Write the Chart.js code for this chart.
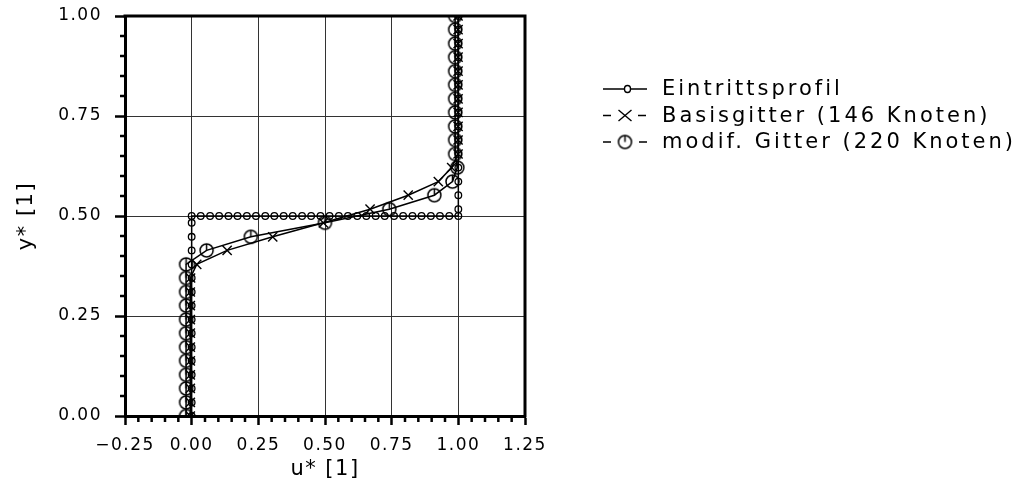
<!DOCTYPE html>
<html>
<head>
<meta charset="utf-8">
<script src="https://cdn.jsdelivr.net/npm/chart.js@4.4.1/dist/chart.umd.min.js"></script>
<style>
  html, body { margin: 0; padding: 0; background: #fff; }
  #wrap { position: relative; width: 1019px; height: 487px; }
</style>
</head>
<body>
<div id="wrap"><canvas id="profileChart"></canvas></div>
<script>
// y* of the grid nodes (all three profiles are sampled there)
const nodeY = [0.000, 0.034, 0.069, 0.103, 0.138, 0.172, 0.207, 0.241, 0.276, 0.310,
               0.345, 0.379, 0.414, 0.448, 0.483, 0.517, 0.552, 0.586, 0.621, 0.655,
               0.690, 0.724, 0.759, 0.793, 0.828, 0.862, 0.897, 0.931, 0.966, 1.000];

// inlet step profile (column at u=0, row at y=0.5, column at u=1)
const inletU = [0, 0, 0, 0, 0, 0, 0, 0, 0, 0, 0, 0, 0, 0, 0,
                0.000, 0.034, 0.069, 0.103, 0.138, 0.172, 0.207, 0.241, 0.276, 0.310,
                0.345, 0.379, 0.414, 0.448, 0.483, 0.517, 0.552, 0.586, 0.621, 0.655,
                0.690, 0.724, 0.759, 0.793, 0.828, 0.862, 0.897, 0.931, 0.966, 1.000,
                1, 1, 1, 1, 1, 1, 1, 1, 1, 1, 1, 1, 1, 1, 1];
const inletY = [0.000, 0.034, 0.069, 0.103, 0.138, 0.172, 0.207, 0.241, 0.276, 0.310,
                0.345, 0.379, 0.414, 0.448, 0.483,
                0.5, 0.5, 0.5, 0.5, 0.5, 0.5, 0.5, 0.5, 0.5, 0.5,
                0.5, 0.5, 0.5, 0.5, 0.5, 0.5, 0.5, 0.5, 0.5, 0.5,
                0.5, 0.5, 0.5, 0.5, 0.5, 0.5, 0.5, 0.5, 0.5, 0.5,
                0.517, 0.552, 0.586, 0.621, 0.655, 0.690, 0.724, 0.759, 0.793, 0.828,
                0.862, 0.897, 0.931, 0.966, 1.000];

// Basisgitter (146 Knoten)
const basisU = [-0.005, -0.005, -0.005, -0.005, -0.005, -0.005, -0.005, -0.005, -0.005, -0.005,
                -0.004, 0.019, 0.133, 0.304, 0.494, 0.669, 0.812, 0.925, 0.975, 0.999,
                0.999, 0.999, 0.999, 0.999, 0.999, 0.999, 0.999, 0.999, 0.999, 0.999];

// modif. Gitter (220 Knoten)
const modifU = [-0.021, -0.021, -0.021, -0.021, -0.021, -0.021, -0.021, -0.021, -0.021, -0.021,
                -0.021, -0.021, 0.056, 0.222, 0.500, 0.741, 0.910, 0.978, 0.996, 0.988,
                0.988, 0.988, 0.988, 0.988, 0.988, 0.988, 0.988, 0.988, 0.988, 0.988];

const xTicks = [-0.25, 0.00, 0.25, 0.50, 0.75, 1.00, 1.25];
const yTicks = [0.00, 0.25, 0.50, 0.75, 1.00];
const legendLabels = ['Eintrittsprofil', 'Basisgitter (146 Knoten)', 'modif. Gitter (220 Knoten)'];
const xTitle = 'u* [1]';
const yTitle = 'y* [1]';

const FONT = "'DejaVu Sans', sans-serif";

// circle with a short vertical stroke on top, used for the modified grid
function makeModifMarker() {
    const c = document.createElement('canvas');
    c.width = 17; c.height = 17;
    const g = c.getContext('2d');
    g.strokeStyle = '#000';
    g.lineWidth = 1.5;
    g.beginPath();
    g.arc(8.5, 8.5, 6.5, 0, Math.PI * 2);
    g.stroke();
    g.beginPath();
    g.moveTo(8.5, 2);
    g.lineTo(8.5, 8.5);
    g.stroke();
    return c;
}
const modifMarker = makeModifMarker();

function toPoints(us, ys) {
    return us.map((u, i) => ({ x: u, y: ys[i] }));
}

function fmt(v) {
    const s = Math.abs(v).toFixed(2);
    return v < 0 ? '\u2212' + s : s;
}

// thick frame on top and right, minor ticks every 0.05
const framePlugin = {
    id: 'frame',
    beforeDraw(chart) {
        chart.ctx.letterSpacing = '1.5px';
    },
    afterDraw(chart) {
        const { ctx, chartArea: a, scales } = chart;
        ctx.save();
        ctx.strokeStyle = '#000';
        ctx.lineWidth = 3;
        ctx.beginPath();
        ctx.moveTo(a.left - 1.5, a.top);
        ctx.lineTo(a.right, a.top);
        ctx.lineTo(a.right, a.bottom + 1.5);
        ctx.stroke();

        ctx.lineWidth = 2.5;
        ctx.beginPath();
        for (let i = 0; i <= 30; i++) {
            if (i % 5 === 0) continue;
            const px = scales.x.getPixelForValue(-0.25 + i * 0.05);
            ctx.moveTo(px, a.bottom);
            ctx.lineTo(px, a.bottom + 6);
        }
        for (let i = 0; i <= 20; i++) {
            if (i % 5 === 0) continue;
            const py = scales.y.getPixelForValue(i * 0.05);
            ctx.moveTo(a.left, py);
            ctx.lineTo(a.left - 5, py);
        }
        ctx.stroke();
        ctx.restore();
    }
};

// legend to the right of the plot
const legendPlugin = {
    id: 'sideLegend',
    afterDraw(chart) {
        const ctx = chart.ctx;
        const rows = [89, 115.5, 142];
        ctx.save();
        ctx.strokeStyle = '#000';
        ctx.fillStyle = '#000';
        ctx.lineWidth = 1.4;

        // —o—
        let y = rows[0];
        ctx.beginPath();
        ctx.moveTo(603, y); ctx.lineTo(624, y);
        ctx.moveTo(631, y); ctx.lineTo(647, y);
        ctx.stroke();
        ctx.beginPath();
        ctx.ellipse(627.5, y, 3, 3.5, 0, 0, Math.PI * 2);
        ctx.stroke();

        // -x-
        y = rows[1];
        ctx.beginPath();
        ctx.moveTo(603, y); ctx.lineTo(611, y);
        ctx.moveTo(638, y); ctx.lineTo(646, y);
        ctx.moveTo(618.5, y - 5.5); ctx.lineTo(631.5, y + 5.5);
        ctx.moveTo(618.5, y + 5.5); ctx.lineTo(631.5, y - 5.5);
        ctx.stroke();

        // -O-
        y = rows[2];
        ctx.beginPath();
        ctx.moveTo(603, y); ctx.lineTo(611, y);
        ctx.moveTo(639, y); ctx.lineTo(647, y);
        ctx.stroke();
        ctx.drawImage(modifMarker, 625 - 8.5, y - 8.5);

        ctx.font = '21px ' + FONT;
        ctx.letterSpacing = '3px';
        ctx.textBaseline = 'middle';
        ctx.textAlign = 'left';
        legendLabels.forEach((t, i) => ctx.fillText(t, 662, rows[i] + 1));
        ctx.restore();
    }
};

const ctx = document.getElementById('profileChart').getContext('2d');
new Chart(ctx, {
    type: 'scatter',
    data: {
        datasets: [
            {
                label: legendLabels[0],
                data: toPoints(inletU, inletY),
                showLine: true,
                borderColor: '#000',
                borderWidth: 1.5,
                backgroundColor: 'rgba(0,0,0,0)',
                pointStyle: 'circle',
                pointRadius: 3.3,
                pointBorderWidth: 1.3,
                pointBorderColor: '#000',
                tension: 0
            },
            {
                label: legendLabels[1],
                data: toPoints(basisU, nodeY),
                showLine: true,
                borderColor: '#000',
                borderWidth: 1.5,
                backgroundColor: 'rgba(0,0,0,0)',
                pointStyle: 'crossRot',
                pointRadius: 6.5,
                pointBorderWidth: 1.4,
                pointBorderColor: '#000',
                tension: 0
            },
            {
                label: legendLabels[2],
                data: toPoints(modifU, nodeY),
                showLine: true,
                borderColor: '#000',
                borderWidth: 1.5,
                backgroundColor: 'rgba(0,0,0,0)',
                pointStyle: modifMarker,
                pointRadius: 6.5,
                tension: 0
            }
        ]
    },
    plugins: [framePlugin, legendPlugin],
    options: {
        responsive: true,
        maintainAspectRatio: false,
        animation: false,
        events: [],
        layout: { padding: { left: 0, top: 16, right: 494, bottom: 0 } },
        plugins: {
            legend: { display: false },
            tooltip: { enabled: false }
        },
        scales: {
            x: {
                type: 'linear',
                min: -0.25,
                max: 1.25,
                afterBuildTicks: scale => { scale.ticks = xTicks.map(v => ({ value: v })); },
                afterFit: scale => {
                    scale.height = 71;
                    scale.paddingLeft = 0;
                    scale.paddingRight = 0;
                },
                border: { color: '#000', width: 3 },
                grid: { color: '#333', lineWidth: 1, tickColor: '#000', tickLength: 9, tickWidth: 2.5 },
                ticks: {
                    autoSkip: false,
                    maxRotation: 0,
                    padding: 10,
                    color: '#000',
                    font: { family: FONT, size: 17 },
                    callback: v => fmt(v)
                },
                title: {
                    display: true,
                    text: xTitle,
                    color: '#000',
                    font: { family: FONT, size: 21 },
                    padding: { top: 0, bottom: 5 }
                }
            },
            y: {
                type: 'linear',
                min: 0,
                max: 1,
                afterBuildTicks: scale => { scale.ticks = yTicks.map(v => ({ value: v })); },
                afterFit: scale => {
                    scale.width = 125;
                    scale.paddingTop = 0;
                    scale.paddingBottom = 0;
                },
                border: { color: '#000', width: 3 },
                grid: { color: '#333', lineWidth: 1, tickColor: '#000', tickLength: 10, tickWidth: 2.5 },
                ticks: {
                    autoSkip: false,
                    padding: 13,
                    color: '#000',
                    font: { family: FONT, size: 17 },
                    callback: v => fmt(v)
                },
                title: {
                    display: true,
                    text: yTitle,
                    color: '#000',
                    font: { family: FONT, size: 21 },
                    padding: { top: 14, bottom: 0 }
                }
            }
        }
    }
});
</script>
</body>
</html>
